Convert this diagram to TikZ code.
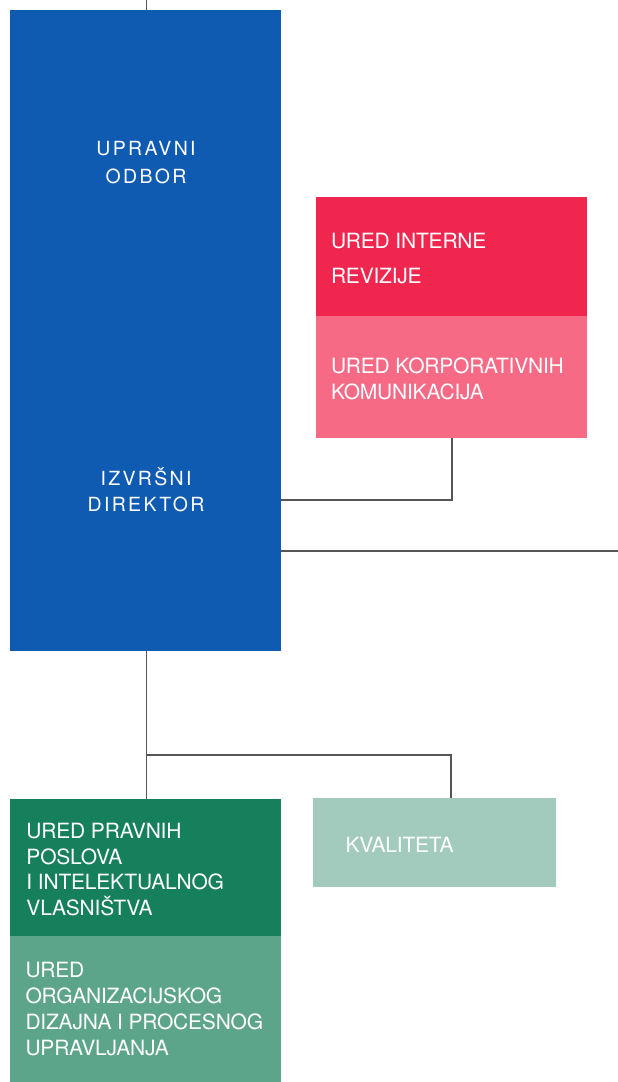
\documentclass[tikz,border=0pt]{standalone}
\usepackage{fontspec}
\setmainfont{TeX Gyre Heros}
\newfontfamily\trackfont[LetterSpace=12]{TeX Gyre Heros}
\newfontfamily\tightfont[LetterSpace=-1]{TeX Gyre Heros}
\definecolor{cblue}{HTML}{105BB2}
\definecolor{cred}{HTML}{F0264F}
\definecolor{cpink}{HTML}{F66A86}
\definecolor{cdgreen}{HTML}{167F5C}
\definecolor{cmgreen}{HTML}{5CA58B}
\definecolor{clgreen}{HTML}{A3CBBD}
\definecolor{linegray}{HTML}{555555}
\begin{document}
\begin{tikzpicture}[x=1pt,y=-1pt,
  box/.style={draw=none, inner sep=0pt, outer sep=0pt, anchor=north west},
  lbl/.style={anchor=base west, inner sep=0pt, outer sep=0pt, text=white, font=\tightfont\fontsize{21}{24}\selectfont},
  blbl/.style={anchor=base, inner sep=0pt, outer sep=0pt, text=white, font=\trackfont\fontsize{19.5}{22}\selectfont},
  conn/.style={draw=linegray, line width=1.3pt}]
\useasboundingbox (0,0) rectangle (618,1082);
% boxes
\node[box, fill=cblue, minimum width=271pt, minimum height=641pt] (board) at (10,10) {};
\node[box, fill=cred, minimum width=271pt, minimum height=119pt] (audit) at (316,197) {};
\node[box, fill=cpink, minimum width=271pt, minimum height=122pt] (comm) at (316,316) {};
\node[box, fill=cdgreen, minimum width=271pt, minimum height=137pt] (legal) at (10,799) {};
\node[box, fill=cmgreen, minimum width=271pt, minimum height=146pt] (org) at (10,936) {};
\node[box, fill=clgreen, minimum width=243pt, minimum height=89pt] (qual) at (313,798) {};
% blue texts
\node[blbl] (b1) at (146,155) {UPRAVNI};
\node[blbl] (b2) at (146,183) {ODBOR};
\node[blbl] (b3) at (146,485) {IZVRŠNI};
\node[blbl] (b4) at (146,511) {DIREKTOR};
% red / pink texts
\node[lbl] (r1) at (331,248) {URED INTERNE};
\node[lbl] (r2) at (331,283) {REVIZIJE};
\node[lbl] (p1) at (331,373) {URED KORPORATIVNIH};
\node[lbl] (p2) at (331,399) {KOMUNIKACIJA};
% green texts
\node[lbl] (g1) at (26.5,838) {URED PRAVNIH};
\node[lbl] (g2) at (26.5,864) {POSLOVA};
\node[lbl] (g3) at (26.5,889.5) {I INTELEKTUALNOG};
\node[lbl] (g4) at (26.5,915) {VLASNIŠTVA};
\node[lbl] (m1) at (25.5,977) {URED};
\node[lbl] (m2) at (25.5,1003) {ORGANIZACIJSKOG};
\node[lbl] (m3) at (25.5,1029.5) {DIZAJNA I PROCESNOG};
\node[lbl] (m4) at (25.5,1055) {UPRAVLJANJA};
\node[lbl] (q1) at (345.5,852) {KVALITETA};
% connectors
\coordinate (topend) at (146.5,0);
\coordinate (rightend) at (618,551);
\coordinate (bjoin) at (146.5,755);
\draw[conn] (topend) -- (board.north -| topend);
\draw[conn] (comm.south -| 452,0) |- (board.east |- 0,500);
\draw[conn] (board.east |- rightend) -- (rightend);
\draw[conn] (board.south -| bjoin) -- (legal.north -| bjoin);
\draw[conn] (bjoin) -| (qual.north -| 451,0);
\end{tikzpicture}
\end{document}
